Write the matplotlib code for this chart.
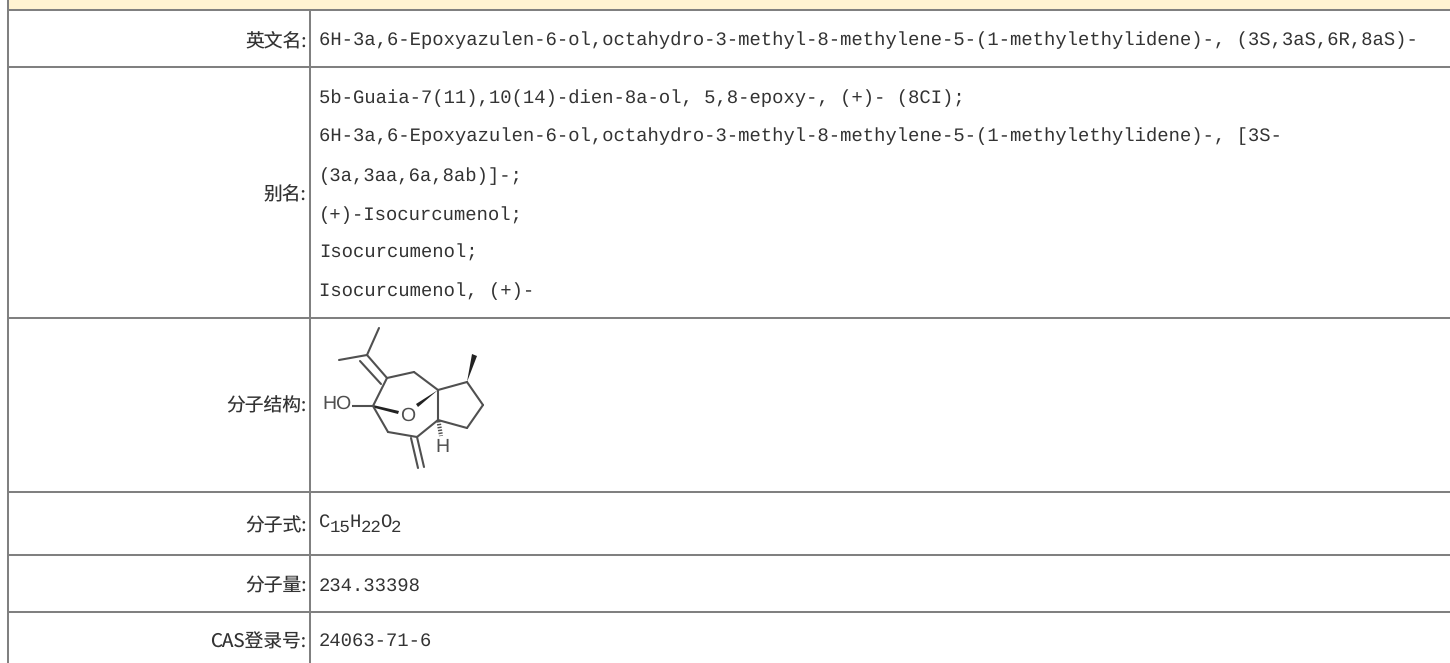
import matplotlib
matplotlib.use("Agg")
import matplotlib.pyplot as plt

plt.rcParams["text.hinting"] = "no_hinting"

W, H = 1450, 663
GRID = "#808080"
BAND = "#FFF3D2"
TEXT = "#333333"

row_lines = [10, 67, 318, 492, 555, 612]
col_lines = [8, 310]

row_labels = ["英文名:", "别名:", "分子结构:", "分子式:", "分子量:", "CAS登录号:"]
label_base = [46, 200, 411, 531, 591, 647]

text_rows = [
    ("6H-3a,6-Epoxyazulen-6-ol,octahydro-3-methyl-8-methylene-5-(1-methylethylidene)-, (3S,3aS,6R,8aS)-", 45),
    ("5b-Guaia-7(11),10(14)-dien-8a-ol, 5,8-epoxy-, (+)- (8CI);", 103),
    ("6H-3a,6-Epoxyazulen-6-ol,octahydro-3-methyl-8-methylene-5-(1-methylethylidene)-, [3S-", 141),
    ("(3a,3aa,6a,8ab)]-;", 181),
    ("(+)-Isocurcumenol;", 220),
    ("Isocurcumenol;", 258),
    ("Isocurcumenol, (+)-", 296),
    ("234.33398", 591),
    ("24063-71-6", 646),
]
formula_parts = ["C", "15", "H", "22", "O", "2"]
formula_sub = [False, True, False, True, False, True]
formula_base = 527

# molecule skeleton (pixel coordinates)
bonds = [
    [(379, 328), (367, 355)], [(339, 360), (367, 355)],
    [(367, 355), (387, 378)], [(387, 378), (414, 372)], [(414, 372), (438, 390)],
    [(438, 390), (467, 382)], [(467, 382), (483, 405)], [(483, 405), (467, 428)],
    [(467, 428), (438, 420)], [(438, 420), (417, 437)], [(417, 437), (388, 432)],
    [(388, 432), (373, 406)], [(373, 406), (387, 378)], [(438, 390), (438, 420)],
    [(352, 406), (373, 406)], [(417, 437), (424, 467)],
    [(360, 361), (381, 384)], [(411, 438), (418, 468)],
]
wedges = [
    [(373, 405), (373, 407.5), (398, 414), (399, 411)],
    [(438, 390), (418, 407), (416, 404)],
    [(467, 382), (472, 354), (477, 356)],
]
hash_bond = [(438.5, 421), (441, 436)]
atoms = [("HO", 337, 404), ("O", 408, 416), ("H", 442, 447)]

fig = plt.figure(figsize=(W / 100, H / 100), dpi=100, facecolor="white")
ax = fig.add_axes([0, 0, 1, 1])
ax.set_xlim(0, W)
ax.set_ylim(H, 0)
ax.axis("off")

ax.axhspan(0, row_lines[0], xmin=col_lines[0] / W, xmax=1, color=BAND, lw=0)
for y in row_lines:
    ax.plot([col_lines[0], W], [y, y], color=GRID, lw=1.45, solid_capstyle="butt")
for x in col_lines:
    y0 = 0 if x == col_lines[0] else row_lines[0]
    ax.plot([x, x], [y0, H], color=GRID, lw=1.45, solid_capstyle="butt")

CJK = ["Noto Sans CJK SC", "DejaVu Sans"]
for lab, y in zip(row_labels, label_base):
    ax.text(306.5, y, lab, ha="right", va="baseline", fontsize=13.5,
            family=CJK, color=TEXT)

MONO = "Liberation Mono"
FS = 13.6
for s, y in text_rows:
    ax.text(319, y, s, ha="left", va="baseline", fontsize=FS, family=MONO, color=TEXT)

x = 319.0
for part, sub in zip(formula_parts, formula_sub):
    ax.text(x, formula_base + (5 if sub else 0), part, ha="left", va="baseline",
            fontsize=12.5 if sub else FS, family=MONO, color=TEXT)
    x += (9.6 if sub else 11.2) * len(part)

MOL = "#505050"
for b in bonds:
    ax.plot(*zip(*b), color=MOL, lw=1.5, solid_capstyle="round")
for w in wedges:
    ax.fill(*zip(*w), color="#222222", lw=0)
ax.plot(*zip(*hash_bond), color=MOL, lw=3, ls=(0, (0.35, 0.35)))
for s, x0, y0 in atoms:
    ax.text(x0, y0, s, ha="center", va="center", fontsize=14,
            family="Liberation Sans", color=MOL,
            bbox=dict(fc="white", ec="none", pad=0.5))

fig.savefig("out.png", dpi=100, facecolor="white")
